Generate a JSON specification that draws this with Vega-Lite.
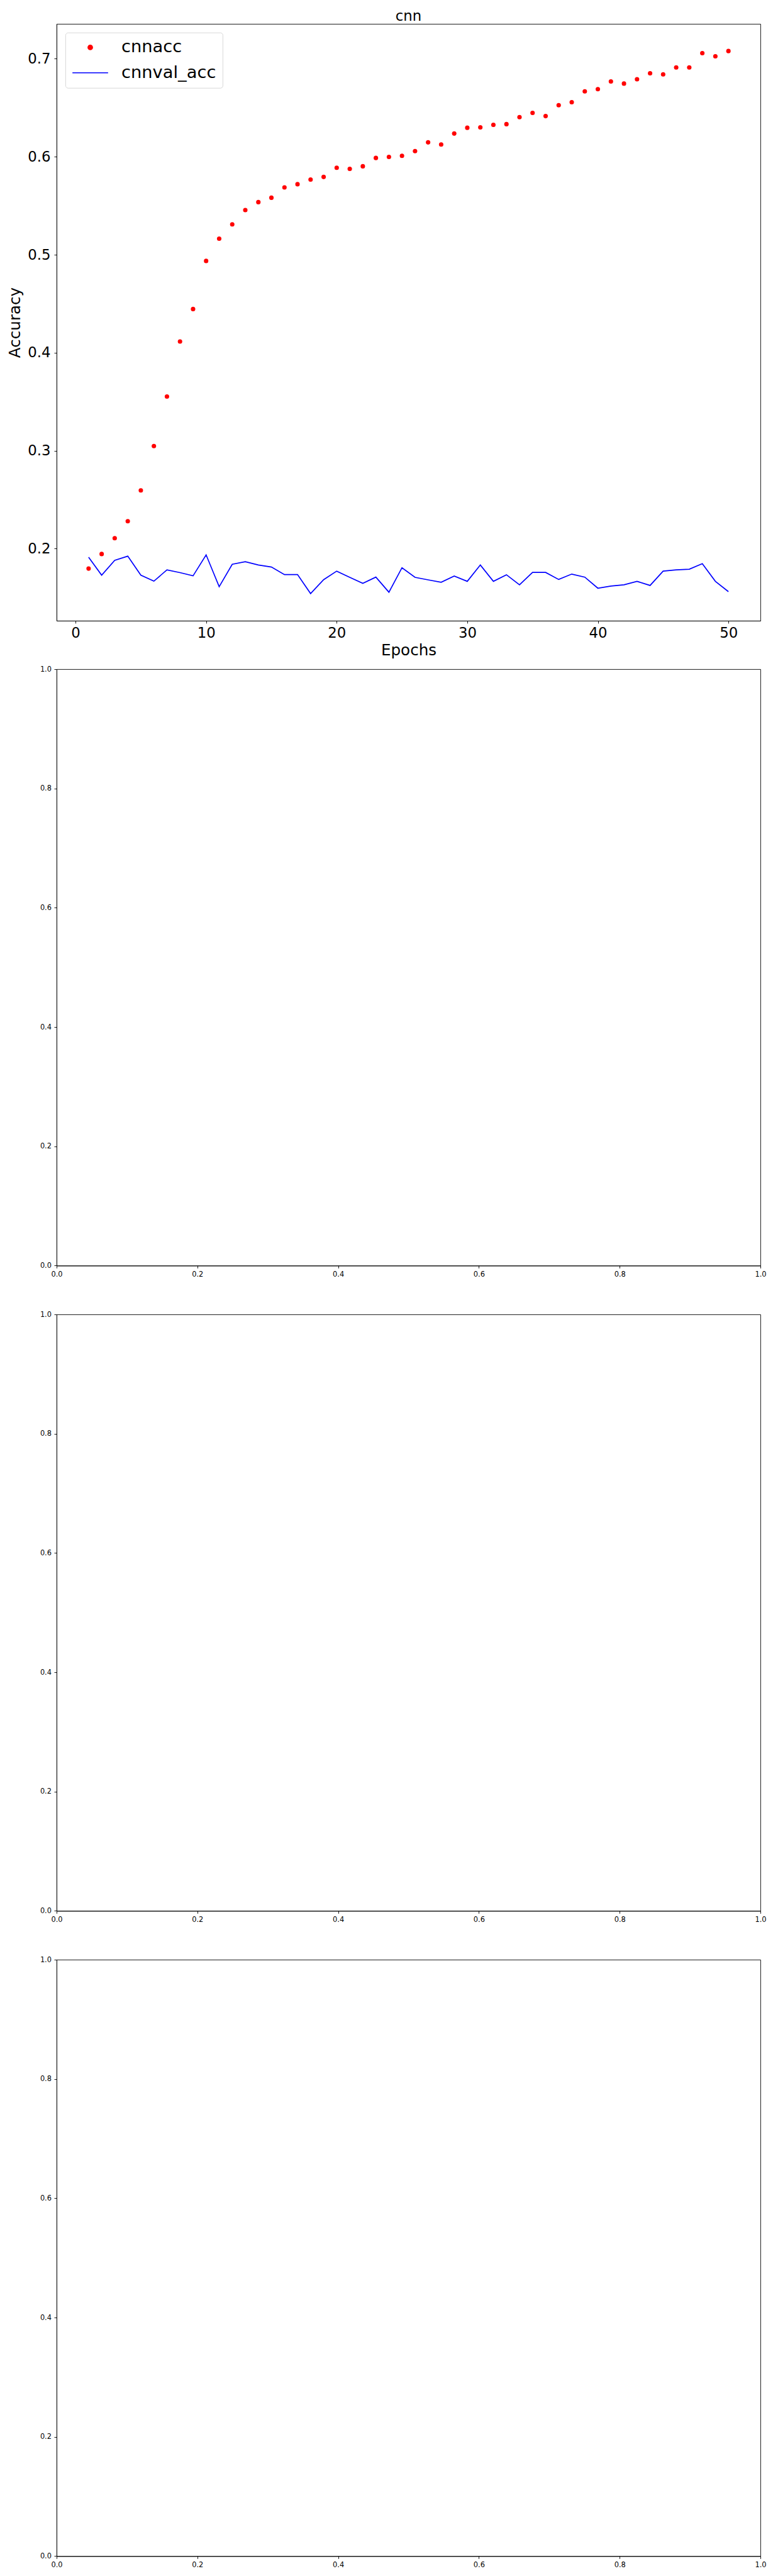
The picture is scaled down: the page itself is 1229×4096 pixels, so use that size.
{
  "$schema": "https://vega.github.io/schema/vega-lite/v6.json",
  "padding": {"left": 11, "top": 14, "right": 5, "bottom": 5},
  "background": "white",
  "config": {
    "font": "DejaVu Sans",
    "view": {"stroke": "black", "strokeWidth": 0.9},
    "axis": {
      "grid": false,
      "domainColor": "black",
      "domainWidth": 0.9,
      "tickColor": "black",
      "tickWidth": 0.9,
      "tickSize": 4,
      "labelColor": "black",
      "titleColor": "black",
      "labelFont": "DejaVu Sans",
      "titleFont": "DejaVu Sans",
      "titleFontWeight": "normal",
      "labelOverlap": false,
      "labelFlush": false,
      "labelBound": false
    },
    "title": {"font": "DejaVu Sans", "fontWeight": "normal", "color": "black"}
  },
  "datasets": {
    "history": [
      {"epoch": 1, "series": "cnnacc", "value": 0.1797},
      {"epoch": 2, "series": "cnnacc", "value": 0.1946},
      {"epoch": 3, "series": "cnnacc", "value": 0.2107},
      {"epoch": 4, "series": "cnnacc", "value": 0.2281},
      {"epoch": 5, "series": "cnnacc", "value": 0.2595},
      {"epoch": 6, "series": "cnnacc", "value": 0.3048},
      {"epoch": 7, "series": "cnnacc", "value": 0.3553},
      {"epoch": 8, "series": "cnnacc", "value": 0.4115},
      {"epoch": 9, "series": "cnnacc", "value": 0.4446},
      {"epoch": 10, "series": "cnnacc", "value": 0.4937},
      {"epoch": 11, "series": "cnnacc", "value": 0.5164},
      {"epoch": 12, "series": "cnnacc", "value": 0.5310},
      {"epoch": 13, "series": "cnnacc", "value": 0.5456},
      {"epoch": 14, "series": "cnnacc", "value": 0.5537},
      {"epoch": 15, "series": "cnnacc", "value": 0.5582},
      {"epoch": 16, "series": "cnnacc", "value": 0.5687},
      {"epoch": 17, "series": "cnnacc", "value": 0.5720},
      {"epoch": 18, "series": "cnnacc", "value": 0.5768},
      {"epoch": 19, "series": "cnnacc", "value": 0.5794},
      {"epoch": 20, "series": "cnnacc", "value": 0.5888},
      {"epoch": 21, "series": "cnnacc", "value": 0.5877},
      {"epoch": 22, "series": "cnnacc", "value": 0.5903},
      {"epoch": 23, "series": "cnnacc", "value": 0.5988},
      {"epoch": 24, "series": "cnnacc", "value": 0.5999},
      {"epoch": 25, "series": "cnnacc", "value": 0.6010},
      {"epoch": 26, "series": "cnnacc", "value": 0.6058},
      {"epoch": 27, "series": "cnnacc", "value": 0.6147},
      {"epoch": 28, "series": "cnnacc", "value": 0.6125},
      {"epoch": 29, "series": "cnnacc", "value": 0.6237},
      {"epoch": 30, "series": "cnnacc", "value": 0.6296},
      {"epoch": 31, "series": "cnnacc", "value": 0.6300},
      {"epoch": 32, "series": "cnnacc", "value": 0.6326},
      {"epoch": 33, "series": "cnnacc", "value": 0.6333},
      {"epoch": 34, "series": "cnnacc", "value": 0.6405},
      {"epoch": 35, "series": "cnnacc", "value": 0.6448},
      {"epoch": 36, "series": "cnnacc", "value": 0.6415},
      {"epoch": 37, "series": "cnnacc", "value": 0.6527},
      {"epoch": 38, "series": "cnnacc", "value": 0.6557},
      {"epoch": 39, "series": "cnnacc", "value": 0.6668},
      {"epoch": 40, "series": "cnnacc", "value": 0.6690},
      {"epoch": 41, "series": "cnnacc", "value": 0.6769},
      {"epoch": 42, "series": "cnnacc", "value": 0.6747},
      {"epoch": 43, "series": "cnnacc", "value": 0.6791},
      {"epoch": 44, "series": "cnnacc", "value": 0.6852},
      {"epoch": 45, "series": "cnnacc", "value": 0.6841},
      {"epoch": 46, "series": "cnnacc", "value": 0.6911},
      {"epoch": 47, "series": "cnnacc", "value": 0.6911},
      {"epoch": 48, "series": "cnnacc", "value": 0.7057},
      {"epoch": 49, "series": "cnnacc", "value": 0.7026},
      {"epoch": 50, "series": "cnnacc", "value": 0.7079},
      {"epoch": 1, "series": "cnnval_acc", "value": 0.1913},
      {"epoch": 2, "series": "cnnval_acc", "value": 0.1730},
      {"epoch": 3, "series": "cnnval_acc", "value": 0.1882},
      {"epoch": 4, "series": "cnnval_acc", "value": 0.1924},
      {"epoch": 5, "series": "cnnval_acc", "value": 0.1730},
      {"epoch": 6, "series": "cnnval_acc", "value": 0.1669},
      {"epoch": 7, "series": "cnnval_acc", "value": 0.1784},
      {"epoch": 8, "series": "cnnval_acc", "value": 0.1756},
      {"epoch": 9, "series": "cnnval_acc", "value": 0.1723},
      {"epoch": 10, "series": "cnnval_acc", "value": 0.1937},
      {"epoch": 11, "series": "cnnval_acc", "value": 0.1612},
      {"epoch": 12, "series": "cnnval_acc", "value": 0.1841},
      {"epoch": 13, "series": "cnnval_acc", "value": 0.1867},
      {"epoch": 14, "series": "cnnval_acc", "value": 0.1834},
      {"epoch": 15, "series": "cnnval_acc", "value": 0.1813},
      {"epoch": 16, "series": "cnnval_acc", "value": 0.1736},
      {"epoch": 17, "series": "cnnval_acc", "value": 0.1736},
      {"epoch": 18, "series": "cnnval_acc", "value": 0.1542},
      {"epoch": 19, "series": "cnnval_acc", "value": 0.1684},
      {"epoch": 20, "series": "cnnval_acc", "value": 0.1771},
      {"epoch": 21, "series": "cnnval_acc", "value": 0.1708},
      {"epoch": 22, "series": "cnnval_acc", "value": 0.1647},
      {"epoch": 23, "series": "cnnval_acc", "value": 0.1710},
      {"epoch": 24, "series": "cnnval_acc", "value": 0.1556},
      {"epoch": 25, "series": "cnnval_acc", "value": 0.1806},
      {"epoch": 26, "series": "cnnval_acc", "value": 0.1708},
      {"epoch": 27, "series": "cnnval_acc", "value": 0.1682},
      {"epoch": 28, "series": "cnnval_acc", "value": 0.1658},
      {"epoch": 29, "series": "cnnval_acc", "value": 0.1721},
      {"epoch": 30, "series": "cnnval_acc", "value": 0.1667},
      {"epoch": 31, "series": "cnnval_acc", "value": 0.1834},
      {"epoch": 32, "series": "cnnval_acc", "value": 0.1667},
      {"epoch": 33, "series": "cnnval_acc", "value": 0.1734},
      {"epoch": 34, "series": "cnnval_acc", "value": 0.1632},
      {"epoch": 35, "series": "cnnval_acc", "value": 0.1758},
      {"epoch": 36, "series": "cnnval_acc", "value": 0.1758},
      {"epoch": 37, "series": "cnnval_acc", "value": 0.1686},
      {"epoch": 38, "series": "cnnval_acc", "value": 0.1741},
      {"epoch": 39, "series": "cnnval_acc", "value": 0.1710},
      {"epoch": 40, "series": "cnnval_acc", "value": 0.1597},
      {"epoch": 41, "series": "cnnval_acc", "value": 0.1619},
      {"epoch": 42, "series": "cnnval_acc", "value": 0.1632},
      {"epoch": 43, "series": "cnnval_acc", "value": 0.1667},
      {"epoch": 44, "series": "cnnval_acc", "value": 0.1625},
      {"epoch": 45, "series": "cnnval_acc", "value": 0.1771},
      {"epoch": 46, "series": "cnnval_acc", "value": 0.1784},
      {"epoch": 47, "series": "cnnval_acc", "value": 0.1791},
      {"epoch": 48, "series": "cnnval_acc", "value": 0.1847},
      {"epoch": 49, "series": "cnnval_acc", "value": 0.1667},
      {"epoch": 50, "series": "cnnval_acc", "value": 0.1562}
    ]
  },
  "bounds": "flush",
  "spacing": 77,
  "vconcat": [
    {
      "width": 1119,
      "height": 949,
      "title": {"text": "cnn", "fontSize": 22.8, "offset": -17.3, "baseline": "alphabetic", "frame": "group", "anchor": "middle"},
      "data": {"name": "history"},
      "encoding": {
        "x": {
          "field": "epoch", "type": "quantitative",
          "scale": {"domain": [-1.45, 52.45], "nice": false, "zero": false},
          "axis": {
            "values": [0, 10, 20, 30, 40, 50], "format": "d",
            "labelFontSize": 22.8, "labelPadding": 4.5,
            "title": "Epochs", "titleFontSize": 24.6,
            "titleX": 559.5, "titleY": 54.4, "titleBaseline": "alphabetic", "titleAlign": "center", "titleAngle": 0
          }
        },
        "y": {
          "field": "value", "type": "quantitative",
          "scale": {"domain": [0.1265, 0.7356], "nice": false, "zero": false},
          "axis": {
            "values": [0.2, 0.3, 0.4, 0.5, 0.6, 0.7], "format": ".1f",
            "labelFontSize": 22.8, "labelPadding": 6,
            "title": "Accuracy", "titleFontSize": 24.6,
            "titleX": -58.3, "titleY": 474.5, "titleBaseline": "alphabetic", "titleAlign": "center", "titleAngle": 270
          }
        },
        "color": {
          "field": "series", "type": "nominal",
          "scale": {"domain": ["cnnacc", "cnnval_acc"], "range": ["#ff0000", "#0000ff"]},
          "legend": {
            "title": null,
            "orient": "none",
            "legendX": 14,
            "legendY": 13.8,
            "padding": 10,
            "fillColor": "white",
            "strokeColor": "#d4d4d4",
            "cornerRadius": 4,
            "labelFontSize": 27.3,
            "labelFont": "DejaVu Sans",
            "labelColor": "black",
            "labelOffset": 20,
            "labelBaseline": "middle",
            "rowPadding": 12.3,
            "symbolSize": 3215,
            "symbolType": "stroke",
            "symbolStrokeWidth": 1.7,
            "encode": {
              "legend": {"update": {"strokeWidth": {"value": 0.9}}},
              "labels": {"update": {"y": {"value": 13.65}}},
              "symbols": {
                "update": {
                  "y": {"value": 13.65},
                  "shape": {"signal": "datum.value === 'cnnacc' ? 'circle' : 'stroke'"},
                  "size": {"signal": "datum.value === 'cnnacc' ? 50 : 3215"},
                  "fill": {"signal": "datum.value === 'cnnacc' ? '#ff0000' : 'transparent'"},
                  "stroke": {"signal": "datum.value === 'cnnacc' ? 'transparent' : '#0000ff'"},
                  "strokeWidth": {"value": 1.7},
                  "opacity": {"value": 1}
                }
              }
            }
          }
        }
      },
      "layer": [
        {
          "transform": [{"filter": "datum.series === 'cnnacc'"}],
          "mark": {"type": "circle", "size": 50, "opacity": 1}
        },
        {
          "transform": [{"filter": "datum.series === 'cnnval_acc'"}],
          "mark": {"type": "line", "strokeWidth": 1.7}
        }
      ]
    },
    {
      "width": 1119,
      "height": 948.4,
      "data": {"values": []},
      "mark": {"type": "point"},
      "encoding": {
        "x": {"field": "x", "type": "quantitative", "scale": {"domain": [0, 1], "nice": false, "zero": false},
          "axis": {"values": [0, 0.2, 0.4, 0.6, 0.8, 1.0], "format": ".1f", "labelFontSize": 11.4, "labelPadding": 4, "title": null}},
        "y": {"field": "y", "type": "quantitative", "scale": {"domain": [0, 1], "nice": false, "zero": false},
          "axis": {"values": [0, 0.2, 0.4, 0.6, 0.8, 1.0], "format": ".1f", "labelFontSize": 11.4, "labelPadding": 4.5, "title": null}}
      }
    },
    {
      "width": 1119,
      "height": 948.4,
      "data": {"values": []},
      "mark": {"type": "point"},
      "encoding": {
        "x": {"field": "x", "type": "quantitative", "scale": {"domain": [0, 1], "nice": false, "zero": false},
          "axis": {"values": [0, 0.2, 0.4, 0.6, 0.8, 1.0], "format": ".1f", "labelFontSize": 11.4, "labelPadding": 4, "title": null}},
        "y": {"field": "y", "type": "quantitative", "scale": {"domain": [0, 1], "nice": false, "zero": false},
          "axis": {"values": [0, 0.2, 0.4, 0.6, 0.8, 1.0], "format": ".1f", "labelFontSize": 11.4, "labelPadding": 4.5, "title": null}}
      }
    },
    {
      "width": 1119,
      "height": 948.4,
      "data": {"values": []},
      "mark": {"type": "point"},
      "encoding": {
        "x": {"field": "x", "type": "quantitative", "scale": {"domain": [0, 1], "nice": false, "zero": false},
          "axis": {"values": [0, 0.2, 0.4, 0.6, 0.8, 1.0], "format": ".1f", "labelFontSize": 11.4, "labelPadding": 4, "title": null}},
        "y": {"field": "y", "type": "quantitative", "scale": {"domain": [0, 1], "nice": false, "zero": false},
          "axis": {"values": [0, 0.2, 0.4, 0.6, 0.8, 1.0], "format": ".1f", "labelFontSize": 11.4, "labelPadding": 4.5, "title": null}}
      }
    }
  ]
}
